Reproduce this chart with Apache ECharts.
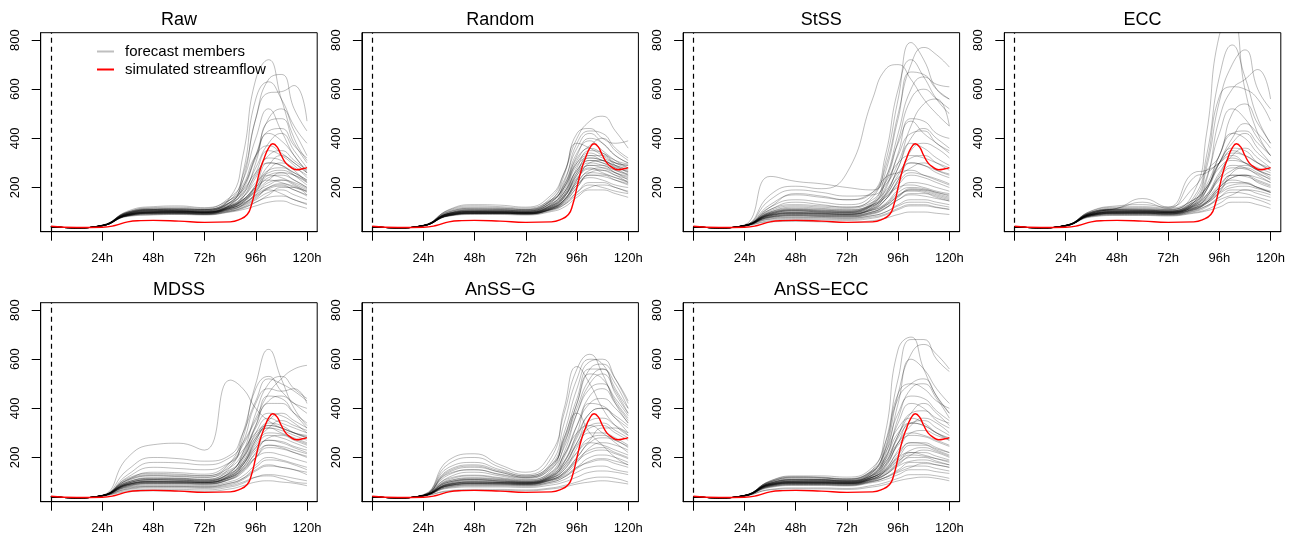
<!DOCTYPE html>
<html>
<head>
<meta charset="utf-8">
<script src="https://cdn.jsdelivr.net/npm/echarts@6/dist/echarts.min.js"></script>
<style>
html,body{margin:0;padding:0;background:#fff;}
#chart{width:1302px;height:539px;}
</style>
</head>
<body>
<div id="chart"></div>
<script>
// ---------- data ----------
const PANEL_TITLES = ['Raw', 'Random', 'StSS', 'ECC', 'MDSS', 'AnSS\u2212G', 'AnSS\u2212ECC'];
const X_TICKS = [0, 24, 48, 72, 96, 120];
const X_LABELS = [24, 48, 72, 96, 120];
const Y_TICKS = [200, 400, 600, 800];
const Y_MIN = 20, Y_MAX = 830;
const X_MIN = -4.8, X_MAX = 124.8;

// lead times (h) of the member values
const T = [0, 12, 24, 36, 48, 60, 72, 84, 90, 96, 102, 108, 114, 120];

// simulated streamflow (red)
const SIM_T = [0, 12, 24, 30, 36, 42, 48, 60, 72, 84, 88, 92, 94, 96, 98, 100, 102, 104, 106, 108, 110, 112, 115, 118, 120];
const SIM_V = [42, 37, 38, 45, 60, 65, 66, 63, 58, 60, 68, 90, 130, 200, 270, 320, 360, 378, 365, 330, 300, 285, 272, 276, 281];

const RAW = [
[40,36,46,100,112,110,105,160,330,640,720,560,400,310],
[40,36,45,95,105,108,110,150,250,480,640,660,520,430],
[40,36,45,90,100,102,100,130,260,560,630,560,450,380],
[40,36,44,92,104,106,104,140,230,480,585,590,615,470],
[40,36,46,98,110,108,105,140,200,330,480,520,430,330],
[40,36,45,90,100,100,98,125,170,300,470,480,380,300],
[40,36,45,92,106,104,102,130,190,320,420,390,330,260],
[40,36,44,88,98,98,96,120,160,260,350,330,290,240],
[40,36,45,90,102,104,100,125,160,240,320,310,270,220],
[40,36,44,85,95,95,92,115,140,210,300,290,250,210],
[40,36,45,88,98,100,98,118,145,200,270,280,260,230],
[40,36,46,95,108,105,100,125,150,190,240,250,230,200],
[40,36,44,86,95,96,95,112,130,170,220,230,210,180],
[40,36,45,90,100,98,96,115,135,170,200,210,190,170],
[40,36,44,84,92,92,90,105,120,150,180,190,170,150],
[40,36,45,88,96,96,95,108,125,155,190,175,150,135],
[40,36,44,85,92,94,92,104,115,140,160,165,150,130],
[40,36,44,82,88,90,88,100,110,125,140,145,130,115],
[40,36,45,90,100,102,100,120,150,210,290,330,300,260],
[40,36,46,100,118,120,115,160,230,400,520,430,330,270],
[40,36,45,95,108,110,108,135,180,280,380,420,350,280],
[40,36,44,88,96,98,96,115,140,190,250,260,230,200],
[40,36,45,92,102,102,100,120,150,200,230,220,200,185],
[40,36,44,86,94,95,93,110,130,180,270,300,280,250],
[40,36,45,95,110,112,110,140,200,330,430,440,370,320],
[40,36,44,84,90,92,90,102,118,140,170,200,200,170],
[40,36,46,98,112,114,110,150,210,330,370,340,300,260],
[40,36,46,104,122,125,118,150,190,260,300,290,260,230],
[40,36,45,96,110,112,108,130,160,220,260,270,250,220],
[40,36,44,90,100,104,100,118,140,180,210,230,220,195],
[40,36,45,94,106,106,104,125,150,200,250,240,215,190],
[40,36,44,88,98,100,98,115,135,165,195,205,190,165],
[40,36,46,100,115,116,112,138,175,250,330,350,310,270],
[40,36,45,92,104,102,100,122,145,185,230,260,250,225],
[40,36,44,86,96,98,95,110,128,160,200,215,205,185]
];

const RANDOM = [
[40,36,46,105,120,118,112,160,260,400,470,490,430,360],
[40,36,45,100,112,110,108,150,250,420,440,400,380,390],
[40,36,45,95,105,104,102,140,220,380,430,420,360,320],
[40,36,44,90,100,100,98,130,200,330,400,380,330,300],
[40,36,45,95,105,106,104,140,210,320,370,400,350,310],
[40,36,46,110,130,128,120,170,260,380,360,330,300,290],
[40,36,44,88,98,98,96,120,170,280,350,340,300,280],
[40,36,45,92,102,100,98,125,180,290,320,310,290,270],
[40,36,44,86,95,95,93,115,160,250,310,300,270,250],
[40,36,45,90,100,100,97,118,150,230,290,290,260,240],
[40,36,44,88,96,96,95,115,150,220,270,280,260,230],
[40,36,45,92,102,102,100,125,165,240,280,260,240,220],
[40,36,44,85,94,94,92,110,140,200,250,250,230,210],
[40,36,45,90,98,98,96,115,145,210,240,230,210,200],
[40,36,44,84,92,92,90,106,130,180,220,220,200,185],
[40,36,45,88,96,96,94,110,135,180,210,200,185,175],
[40,36,44,84,90,90,88,102,120,160,190,190,175,160],
[40,36,46,100,115,115,110,150,230,360,420,380,330,300],
[40,36,45,95,108,108,105,135,190,300,340,320,300,290],
[40,36,44,86,94,94,92,112,140,200,260,270,250,220],
[40,36,45,92,100,100,98,120,160,260,330,330,290,260],
[40,36,44,88,96,96,94,114,150,230,300,310,280,250],
[40,36,45,96,110,110,106,145,210,340,390,350,310,280],
[40,36,44,86,94,95,93,110,130,170,200,210,200,180],
[40,36,45,94,104,104,100,130,180,270,310,300,280,265],
[40,36,46,108,125,122,116,150,200,300,330,310,290,275],
[40,36,45,96,108,108,104,135,180,270,320,310,285,265],
[40,36,44,90,100,100,98,125,165,250,290,280,260,245],
[40,36,45,94,104,104,102,128,170,260,300,290,270,255],
[40,36,44,88,97,97,95,118,150,220,260,255,240,225],
[40,36,46,102,116,114,110,145,200,310,360,340,310,295],
[40,36,45,92,102,102,99,122,160,235,275,270,250,235],
[40,36,44,86,95,95,93,112,145,210,250,245,230,215]
];

const STSS = [
[40,36,46,170,205,195,260,560,680,700,640,560,500,450],
[40,36,46,120,150,140,130,170,280,500,700,770,740,690],
[40,36,45,110,140,130,120,160,300,560,790,720,600,560],
[40,36,46,130,170,160,150,180,330,600,720,650,560,500],
[40,36,45,100,120,115,110,140,260,480,670,660,600,560],
[40,36,44,90,105,100,98,130,230,420,600,650,620,610],
[40,36,45,95,110,108,104,135,220,390,560,600,560,520],
[40,36,46,150,190,180,165,170,210,300,450,540,560,450],
[40,36,44,85,95,92,90,120,190,340,480,470,420,400],
[40,36,45,92,105,102,100,130,200,330,420,430,380,350],
[40,36,44,88,98,96,94,115,170,280,380,360,320,290],
[40,36,45,110,130,125,120,150,220,300,330,320,300,280],
[40,36,44,85,94,92,90,110,150,230,300,290,260,240],
[40,36,45,90,100,98,96,115,150,210,250,240,220,200],
[40,36,44,80,88,86,84,100,130,180,200,195,180,170],
[40,36,44,78,84,82,80,92,115,160,190,185,170,155],
[40,36,45,88,96,94,92,108,130,170,185,180,165,150],
[40,36,44,75,80,78,76,86,100,130,150,150,140,130],
[40,36,43,65,70,68,66,75,88,110,125,125,118,110],
[40,36,43,60,62,60,58,65,75,90,100,100,95,90],
[40,36,44,70,74,72,70,80,92,115,130,130,120,112],
[40,36,45,120,175,165,150,180,240,260,270,250,230,210],
[40,36,48,245,225,215,200,190,240,380,470,420,380,340],
[40,36,44,82,90,88,86,100,125,165,195,190,175,160],
[40,36,45,100,115,112,108,130,170,240,280,300,270,250],
[40,36,44,78,85,82,80,95,115,150,175,175,160,145],
[40,36,45,95,108,104,100,125,165,250,320,330,300,270],
[40,36,44,72,78,76,74,85,100,125,140,140,130,120],
[40,36,45,105,125,120,115,140,185,260,300,290,270,255],
[40,36,44,88,98,95,92,112,150,220,260,250,235,215],
[40,36,45,95,108,105,102,125,160,200,210,200,185,175],
[40,36,44,82,90,88,86,102,125,165,190,190,180,165],
[40,36,44,86,94,92,90,108,135,190,220,215,200,185],
[40,36,45,98,112,108,105,130,175,280,400,440,400,360],
[40,36,44,80,86,84,82,96,118,150,170,165,155,145],
[40,36,45,92,104,100,98,120,160,230,350,380,360,320]
];

const ECC = [
[40,36,46,100,112,110,108,180,420,820,880,600,420,330],
[40,36,45,95,108,106,104,160,330,650,780,650,480,380],
[40,36,45,92,105,104,102,140,280,550,700,760,600,520],
[40,36,44,90,100,100,98,130,230,480,600,640,680,560],
[40,36,45,95,108,108,104,150,300,570,610,600,560,470],
[40,36,46,105,125,130,120,200,270,330,500,540,460,380],
[40,36,44,90,100,102,100,140,240,420,520,480,400,330],
[40,36,45,98,115,155,120,260,270,300,350,330,300,280],
[40,36,44,88,98,98,96,125,190,330,420,400,340,300],
[40,36,45,92,104,104,100,130,190,300,360,350,300,270],
[40,36,44,86,95,95,93,115,160,250,320,300,270,240],
[40,36,45,90,100,100,98,120,160,240,290,280,250,220],
[40,36,44,85,92,92,90,108,140,200,250,250,220,200],
[40,36,45,90,98,98,96,115,140,190,220,220,200,180],
[40,36,44,84,90,90,88,102,120,160,190,190,175,160],
[40,36,45,88,95,95,93,108,125,160,180,175,160,145],
[40,36,44,82,88,88,86,98,110,135,160,160,150,130],
[40,36,44,80,86,86,84,95,105,120,140,140,130,115],
[40,36,45,92,102,102,100,125,170,260,330,360,320,280],
[40,36,46,100,115,140,115,240,260,300,330,300,270,250],
[40,36,45,95,108,108,105,135,200,300,380,420,360,300],
[40,36,44,88,96,96,94,112,140,190,240,250,230,210],
[40,36,45,90,100,100,98,118,145,200,230,220,200,180],
[40,36,44,86,94,94,92,110,135,180,260,280,260,230],
[40,36,45,96,110,112,108,140,210,330,420,430,380,330],
[40,36,44,84,92,92,90,104,125,150,170,190,185,170],
[40,36,46,98,112,114,110,150,200,300,340,330,300,270],
[40,36,46,104,120,122,116,150,200,280,310,300,280,260],
[40,36,45,96,108,108,104,132,170,240,280,275,255,235],
[40,36,44,90,100,100,98,122,155,210,250,245,225,205],
[40,36,45,94,104,106,102,128,165,230,270,290,270,250],
[40,36,44,88,96,98,96,116,140,180,210,215,200,185],
[40,36,46,100,116,118,112,140,190,300,400,460,420,360],
[40,36,45,92,102,102,100,124,150,200,240,250,240,220],
[40,36,44,86,95,95,93,112,135,175,200,205,195,180]
];

const MDSS = [
[40,36,46,200,252,258,230,515,480,400,350,320,300,280],
[40,36,45,150,200,195,185,210,300,430,520,500,470,430],
[40,36,45,130,180,178,170,200,260,360,460,520,560,575],
[40,36,44,110,130,128,125,180,300,500,640,520,400,330],
[40,36,45,100,115,115,110,160,280,480,530,470,420,380],
[40,36,44,95,110,112,108,140,220,380,500,530,480,440],
[40,36,45,105,125,122,118,170,260,420,480,470,480,420],
[40,36,44,90,104,104,100,130,200,330,450,440,380,320],
[40,36,45,95,110,108,105,140,210,320,380,370,340,300],
[40,36,44,88,100,100,98,125,180,280,340,330,300,280],
[40,36,45,100,118,116,112,145,200,290,320,300,280,260],
[40,36,44,85,96,96,94,115,160,240,290,280,260,240],
[40,36,45,92,104,104,102,125,170,240,270,260,240,220],
[40,36,44,82,92,92,90,110,140,200,250,240,220,200],
[40,36,45,90,100,100,98,118,150,200,220,210,195,180],
[40,36,44,80,88,88,86,102,125,170,200,190,175,160],
[40,36,44,78,84,84,82,96,115,150,170,160,150,140],
[40,36,43,65,70,70,68,80,95,120,130,125,115,105],
[40,36,43,60,64,64,62,72,85,100,105,100,95,85],
[40,36,44,70,76,76,74,85,100,120,125,115,100,95],
[40,36,45,110,140,138,132,180,250,350,430,450,420,400],
[40,36,44,88,98,98,96,120,170,260,320,350,330,310],
[40,36,45,95,110,108,104,135,190,300,360,340,320,300],
[40,36,44,84,94,94,92,112,150,220,280,290,270,250],
[40,36,45,90,102,102,100,125,170,270,330,320,300,285],
[40,36,44,75,82,82,80,95,115,160,190,185,170,150],
[40,36,45,120,160,155,150,180,230,300,330,320,300,290],
[40,36,46,108,126,124,120,150,200,280,320,310,290,270],
[40,36,45,96,108,108,104,130,175,250,300,295,275,255],
[40,36,44,90,100,100,98,120,160,230,270,265,245,230],
[40,36,45,100,114,112,108,135,180,270,350,380,350,320],
[40,36,44,86,95,95,93,112,145,200,240,235,220,205],
[40,36,45,115,135,132,126,160,220,330,420,420,380,340],
[40,36,44,92,102,100,98,120,155,215,250,245,230,215],
[40,36,43,72,80,80,78,90,110,145,165,160,150,130]
];

const ANSS_G = [
[40,36,48,175,200,160,130,200,400,570,500,400,330,290],
[40,36,48,190,215,170,140,220,380,560,620,540,420,340],
[40,36,47,160,180,150,125,180,340,520,600,580,480,400],
[40,36,46,140,160,140,120,170,300,480,590,600,520,420],
[40,36,46,130,150,130,115,160,280,440,560,560,460,380],
[40,36,45,110,125,115,105,140,250,420,540,520,430,360],
[40,36,45,100,112,108,100,130,220,380,500,540,470,380],
[40,36,44,95,105,102,98,125,200,330,450,480,420,350],
[40,36,45,90,100,98,95,120,180,300,420,410,360,300],
[40,36,44,86,95,94,92,115,160,260,350,360,330,300],
[40,36,45,92,102,100,97,118,150,240,320,330,300,270],
[40,36,44,85,92,92,90,110,140,200,260,280,270,240],
[40,36,45,90,98,98,96,112,135,190,230,240,220,200],
[40,36,44,80,88,88,86,100,120,160,200,210,200,180],
[40,36,45,88,96,96,94,108,125,160,180,190,175,160],
[40,36,44,78,84,84,82,95,110,140,160,165,150,140],
[40,36,44,75,80,80,78,88,100,120,140,145,140,130],
[40,36,43,65,70,70,68,76,86,100,115,120,115,100],
[40,36,43,62,66,66,64,72,80,92,100,105,100,92],
[40,36,46,120,140,125,110,150,280,380,300,250,200,170],
[40,36,45,105,118,112,104,135,210,300,330,300,260,220],
[40,36,44,90,100,98,95,118,160,220,260,250,230,210],
[40,36,45,95,108,104,100,125,180,280,380,400,360,320],
[40,36,44,84,92,92,90,105,130,180,240,260,250,230],
[40,36,46,150,170,145,125,170,260,400,520,560,500,400],
[40,36,45,100,110,105,100,125,170,250,300,300,280,250],
[40,36,44,86,94,94,92,110,140,200,270,320,320,290],
[40,36,46,135,150,132,118,155,240,380,480,500,440,370],
[40,36,45,115,128,118,108,140,210,330,420,440,400,340],
[40,36,45,100,110,104,98,122,170,260,330,340,310,280],
[40,36,44,92,100,98,94,115,150,220,280,290,270,245],
[40,36,44,86,94,92,90,108,135,185,220,230,215,195],
[40,36,46,145,165,140,120,165,270,420,560,580,520,430],
[40,36,45,105,115,110,102,130,185,290,380,400,370,330],
[40,36,44,82,88,88,86,100,120,155,185,195,185,170]
];

const ANSS_ECC = [
[40,36,46,100,112,110,108,150,300,640,690,560,450,380],
[40,36,45,95,108,108,104,140,260,520,680,680,600,550],
[40,36,45,92,104,104,100,130,230,460,620,660,620,560],
[40,36,44,90,100,100,98,125,210,420,600,560,480,420],
[40,36,45,96,110,110,106,140,240,460,500,480,430,400],
[40,36,46,105,125,125,120,160,260,440,500,520,450,380],
[40,36,44,88,98,98,96,120,190,360,480,500,440,360],
[40,36,45,92,104,106,102,130,200,340,420,400,350,320],
[40,36,44,86,96,96,94,118,170,290,380,390,360,340],
[40,36,45,90,100,100,98,120,160,260,340,330,300,280],
[40,36,44,84,94,94,92,112,150,230,300,310,290,270],
[40,36,45,88,98,98,96,115,145,210,260,260,240,220],
[40,36,44,82,90,90,88,106,130,180,220,220,205,190],
[40,36,45,90,98,98,96,112,130,170,200,200,185,170],
[40,36,44,80,88,88,86,102,120,150,180,180,170,160],
[40,36,44,84,92,92,90,104,118,145,165,165,155,145],
[40,36,44,78,86,86,84,98,110,130,150,150,142,135],
[40,36,43,70,76,76,74,86,98,115,130,130,125,115],
[40,36,43,68,72,72,70,80,90,105,115,120,115,105],
[40,36,45,100,120,118,112,145,220,320,360,340,300,270],
[40,36,45,95,108,108,104,130,180,280,340,350,320,290],
[40,36,44,88,96,96,94,112,145,200,250,250,230,210],
[40,36,45,92,102,102,100,120,150,200,220,210,195,180],
[40,36,44,86,94,94,92,108,135,175,210,230,220,200],
[40,36,46,102,118,116,112,150,230,380,450,440,390,350],
[40,36,44,82,90,90,88,102,118,140,160,175,170,160],
[40,36,45,96,110,110,106,135,180,260,300,290,270,250],
[40,36,46,104,122,120,114,145,200,300,340,330,300,275],
[40,36,45,96,108,108,104,128,170,250,290,285,265,245],
[40,36,44,90,100,100,98,120,155,220,260,255,235,220],
[40,36,45,94,104,104,102,126,165,260,330,360,340,300],
[40,36,44,88,96,96,94,114,140,185,210,205,195,185],
[40,36,46,100,116,116,110,140,190,290,380,420,380,330],
[40,36,45,92,102,102,100,120,145,190,230,240,225,205],
[40,36,44,86,95,95,93,110,130,165,185,190,180,170]
];

const PANEL_MEMBERS = [RAW, RANDOM, STSS, ECC, MDSS, ANSS_G, ANSS_ECC];

// ---------- layout ----------
const GRID_LEFT0 = 40.7, GRID_DX = 321.2, GRID_W = 276.5;
const GRID_TOP0 = 32.7, GRID_DY = 270, GRID_H = 199;
const FONT = 'Liberation Sans, Arial, Helvetica, sans-serif';
const MEMBER_COLOR = 'rgba(0,0,0,0.26)';
const SIM_COLOR = '#ff0000';

const grids = [], xAxes = [], yAxes = [], titles = [], series = [];

PANEL_TITLES.forEach((name, p) => {
  const col = p % 4, row = Math.floor(p / 4);
  const left = GRID_LEFT0 + col * GRID_DX;
  const top = GRID_TOP0 + row * GRID_DY;
  grids.push({
    left: left, top: top, width: GRID_W, height: GRID_H,
    show: true, borderColor: '#000', borderWidth: 1, backgroundColor: 'transparent'
  });
  titles.push({
    text: name, left: left + GRID_W / 2, top: top - 22, textAlign: 'center',
    padding: 0,
    textStyle: { fontFamily: FONT, fontSize: 18, fontWeight: 'normal', color: '#000' }
  });
  xAxes.push({
    type: 'value', gridIndex: p, min: X_MIN, max: X_MAX,
    splitLine: { show: false },
    axisLine: { show: true, onZero: false, lineStyle: { color: '#000', width: 1 } },
    axisTick: { show: true, length: 9, customValues: X_TICKS, lineStyle: { color: '#000', width: 1 } },
    axisLabel: {
      show: true, customValues: X_LABELS, margin: 20,
      formatter: v => v + 'h', fontFamily: FONT, fontSize: 13, color: '#000'
    }
  });
  yAxes.push({
    type: 'value', gridIndex: p, min: Y_MIN, max: Y_MAX,
    splitLine: { show: false },
    axisLine: { show: true, onZero: false, lineStyle: { color: '#000', width: 1 } },
    axisTick: { show: true, length: 9, customValues: Y_TICKS, lineStyle: { color: '#000', width: 1 } },
    axisLabel: {
      show: true, customValues: Y_TICKS, rotate: 90, margin: 19,
      fontFamily: FONT, fontSize: 13, color: '#000'
    }
  });
  PANEL_MEMBERS[p].forEach(member => {
    series.push({
      type: 'line', name: 'forecast members', xAxisIndex: p, yAxisIndex: p,
      data: T.map((t, k) => [t, member[k]]),
      smooth: 0.5, symbol: 'none', silent: true,
      color: MEMBER_COLOR,
      lineStyle: { color: MEMBER_COLOR, width: 1 }, z: 2
    });
  });
  series.push({
    type: 'line', name: 'simulated streamflow', xAxisIndex: p, yAxisIndex: p,
    data: SIM_T.map((t, k) => [t, SIM_V[k]]),
    smooth: 0.5, symbol: 'none', silent: true,
    color: SIM_COLOR,
    lineStyle: { color: SIM_COLOR, width: 1.4 }, z: 4,
    markLine: {
      silent: true, symbol: ['none', 'none'], animation: false,
      label: { show: false },
      lineStyle: { color: '#000', type: [5, 4], width: 1.2 },
      data: [{ xAxis: 0 }]
    }
  });
});

const chart = echarts.init(document.getElementById('chart'), null, { renderer: 'canvas' });
chart.setOption({
  backgroundColor: '#fff',
  animation: false,
  title: titles,
  legend: {
    orient: 'vertical', left: 97, top: 44, padding: 0, itemWidth: 17, itemHeight: 2, itemGap: 3,
    icon: 'rect', selectedMode: false,
    textStyle: { fontFamily: FONT, fontSize: 15, color: '#000', padding: [0, 0, 0, 6] },
    data: [
      { name: 'forecast members', itemStyle: { color: 'rgba(0,0,0,0.25)' } },
      { name: 'simulated streamflow', itemStyle: { color: SIM_COLOR } }
    ]
  },
  grid: grids,
  xAxis: xAxes,
  yAxis: yAxes,
  series: series
});
</script>
</body>
</html>
